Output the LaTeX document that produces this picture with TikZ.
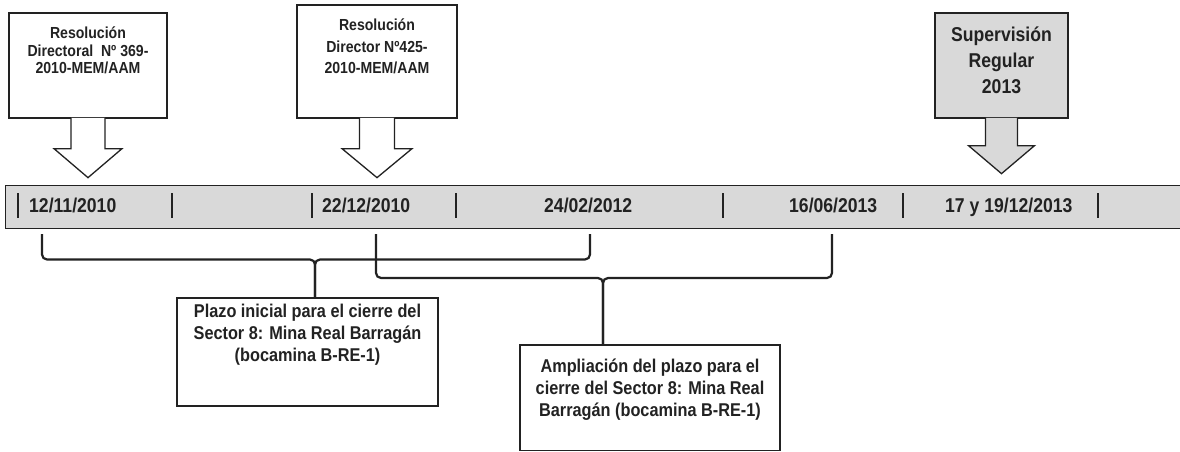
\documentclass[tikz,border=0pt]{standalone}
\usepackage{fontspec}
\setmainfont{Liberation Sans}
\newfontfamily\nar[FakeStretch=0.88]{Liberation Sans}
\definecolor{ink}{HTML}{222222}
\definecolor{barfill}{HTML}{D9D9D9}
\begin{document}
\begin{tikzpicture}[x=1pt,y=-1pt,
  cbox/.style={draw=ink, line width=1.3pt, fill=white, inner sep=0pt},
  gbox/.style={cbox, fill=barfill},
  arr/.style={draw=ink, line width=1.3pt, fill=white, line join=miter},
  garr/.style={arr, fill=barfill},
  toptxt/.style={align=center, text=ink, inner sep=0pt},
  date/.style={font=\nar\bfseries\fontsize{20}{24}\selectfont, text=ink, anchor=base west, inner sep=0pt},
  bartick/.style={draw=ink, line width=1.6pt},
  brace/.style={draw=ink, line width=2.2pt, rounded corners=5pt},
  lowtxt/.style={align=center, text=ink, inner sep=0pt, font=\nar\bfseries\fontsize{18.5}{22}\selectfont}]
\useasboundingbox (0,0) rectangle (1180,452);

% timeline bar
\node[draw=ink, line width=1.3pt, fill=barfill, anchor=north west, minimum width=1185pt, minimum height=43pt, inner sep=0pt] (bar) at (5,185) {};
\foreach \x in {18,172,312,456,723,903,1098}
  \draw[bartick] (\x,193) -- (\x,218);
\node[date] (d1) at (29,212) {12/11/2010};
\node[date] (d2) at (322,212) {22/12/2010};
\node[date] (d3) at (544,212) {24/02/2012};
\node[date] (d4) at (789,212) {16/06/2013};
\node[date] (d5) at (945,212) {17 y 19/12/2013};

% top callouts
\node[cbox, minimum width=158pt, minimum height=105pt] (r1) at (88,65.5) {};
\draw[arr] ([xshift=-17pt,yshift=0.8pt]r1.south) -- ++(0,30.8) -- ++(-17,0) -- ++(34,29) -- ++(34,-29) -- ++(-17,0) -- ++(0,-30.8);
\node[toptxt, font=\nar\bfseries\fontsize{16}{17.5}\selectfont] (t1) at (88,50.5) {Resolución\\Directoral\ \ Nº 369-\\2010-MEM/AAM};

\node[cbox, minimum width=160pt, minimum height=113pt] (r2) at (377,61.5) {};
\draw[arr] ([xshift=-17.5pt,yshift=0.8pt]r2.south) -- ++(0,30.8) -- ++(-17.5,0) -- ++(35,29) -- ++(35,-29) -- ++(-17.5,0) -- ++(0,-30.8);
\node[toptxt, font=\nar\bfseries\fontsize{16}{21.5}\selectfont] (t2) at (377,46.5) {Resolución\\Director Nº425-\\2010-MEM/AAM};

\node[gbox, minimum width=133pt, minimum height=105pt] (r3) at (1001.5,65.5) {};
\draw[garr] ([xshift=-16pt,yshift=0.8pt]r3.south) -- ++(0,27.8) -- ++(-17,0) -- ++(33,28) -- ++(33,-28) -- ++(-17,0) -- ++(0,-27.8);
\node[toptxt, font=\nar\bfseries\fontsize{20}{26}\selectfont] (t3) at (1001.5,60) {Supervisión\\Regular\\2013};

% lower boxes
\node[cbox, minimum width=261pt, minimum height=108pt] (b1) at (307.5,352) {};
\node[lowtxt] (bt1) at (307.5,335) {Plazo inicial para el cierre del\\Sector 8: Mina Real Barragán\\(bocamina B-RE-1)};
\node[cbox, minimum width=260pt, minimum height=105.5pt] (b2) at (650,397.75) {};
\node[lowtxt] (bt2) at (650,390) {Ampliación del plazo para el\\cierre del Sector 8: Mina Real\\Barragán (bocamina B-RE-1)};

% braces
\coordinate (s1a) at (42,234);
\coordinate (s1b) at (590,234);
\coordinate (m1) at (315,259.5);
\draw[brace] (s1a) |- (m1) -- (m1 |- b1.north);
\draw[brace] (s1b) |- (m1) -- (m1 |- b1.north);
\coordinate (s2a) at (376,234);
\coordinate (s2b) at (832,234);
\coordinate (m2) at (603,278);
\draw[brace] (s2a) |- (m2) -- (m2 |- b2.north);
\draw[brace] (s2b) |- (m2) -- (m2 |- b2.north);
\end{tikzpicture}
\end{document}
